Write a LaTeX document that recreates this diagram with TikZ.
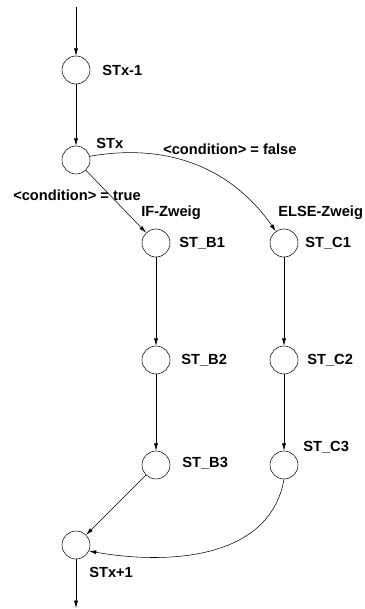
\documentclass[tikz,border=0pt]{standalone}
\usepackage{fontspec}
\setmainfont{Liberation Sans}
\usetikzlibrary{arrows.meta,positioning}

\begin{document}
\begin{tikzpicture}[x=0.75pt, y=0.75pt, >={Latex[length=5.5pt,width=3pt]},
  every node/.style={font=\bfseries\fontsize{11}{13}\selectfont},
  st/.style={draw, circle, minimum size=21pt, inner sep=0pt},
  lbl/.style={inner sep=0pt, anchor=west}]
  \useasboundingbox (0,0) rectangle (364,609);
  % main path
  \node[st] (stxm) at (76,539) {};
  \node[st] (stx)  at (76,449) {};
  \node[st] (stxp) at (76,64) {};
  % IF branch (b) and ELSE branch (c)
  \foreach \n/\y in {1/366,2/249,3/144} {
    \node[st] (b\n) at (156,\y) {};
    \node[st] (c\n) at (284,\y) {};
  }
  \coordinate (in) at (76,602);
  \coordinate (out) at (76,1);
  % state names
  \node[lbl] (lxm) at (102,539) {STx-1};
  \node[lbl] (lx)  at (96,466) {STx};
  \node[lbl] (lxp) at (89,37) {STx+1};
  \node[lbl] (lb1) at (179,366) {ST\_B1};
  \node[lbl] (lb2) at (181,249) {ST\_B2};
  \node[lbl] (lb3) at (182,146) {ST\_B3};
  \node[lbl] (lc1) at (305,366) {ST\_C1};
  \node[lbl] (lc2) at (307,249) {ST\_C2};
  \node[lbl] (lc3) at (303,162) {ST\_C3};
  % branch labels
  \node[lbl] (lif)    at (141,396) {IF-Zweig};
  \node[lbl] (lelse)  at (278,396) {ELSE-Zweig};
  \node[lbl] (ltrue)  at (13,414) {<condition> = true};
  \node[lbl] (lfalse) at (163,460) {<condition> = false};
  % transitions
  \draw[->] (in) -- (stxm);
  \draw[->] (stxm) -- (stx);
  \draw[->] (stx) -- (b1);
  \draw[->] (stx.15) to[out=10, in=125] (c1.125);
  \foreach \n/\m in {1/2,2/3} {
    \draw[->] (b\n) -- (b\m);
    \draw[->] (c\n) -- (c\m);
  }
  \draw[->] (b3) -- (stxp);
  \draw[->] (c3.south) to[out=-100, in=-10] (stxp.-25);
  \draw[->] (stxp) -- (out);
\end{tikzpicture}
\end{document}
